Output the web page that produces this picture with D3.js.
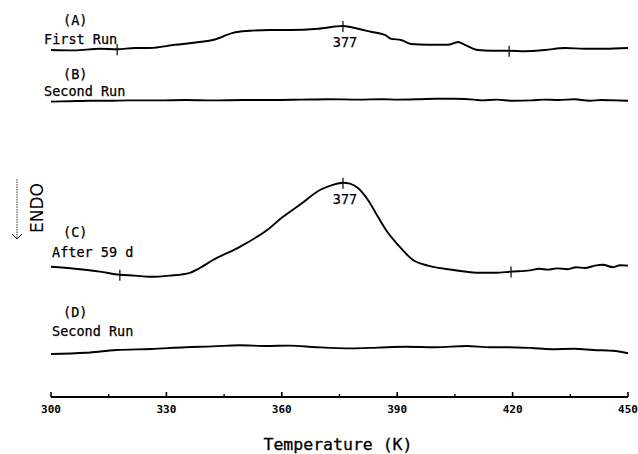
<!DOCTYPE html>
<html>
<head>
<meta charset="utf-8">
<script src="https://cdn.jsdelivr.net/npm/d3@7"></script>
<style>
body { margin: 0; background: #fff; }
svg { display: block; }
.lbl { font-family: "DejaVu Sans Mono", monospace; font-size: 13.5px; fill: #000; stroke: #000; stroke-width: 0.25; }
.tick-lbl { font-family: "DejaVu Sans Mono", monospace; font-size: 11px; font-weight: bold; fill: #000; }
</style>
</head>
<body>
<svg width="638" height="454"></svg>
<script>
// temperature (K) and signal (arbitrary units, traces offset)
const temp_a = [300, 306, 312.7, 317.2, 321.8, 325.7, 332.2, 338.7, 342.1, 344.5, 347.3, 351.7, 356.9, 362.1, 369.4, 375.9, 379.8, 383.4, 386.8, 388.4, 391, 393.6, 398, 403.2, 405, 405.8, 407.6, 411, 414.4, 419.1, 423.2, 428.4, 433.6, 438.8, 444, 450];
const sig_a  = [87.5, 87.4, 87.8, 87.7, 88.0, 88.0, 88.8, 89.5, 90.0, 90.8, 91.8, 92.3, 92.5, 92.5, 92.8, 93.5, 92.8, 92.0, 91.3, 90.3, 90.0, 89.0, 88.8, 88.8, 89.3, 89.5, 88.8, 87.5, 87.3, 87.3, 87.2, 87.5, 88.0, 87.8, 87.8, 88.0];

const temp_b = [300, 305, 310, 315, 320, 328, 335, 342, 350, 358, 365, 372, 380, 386, 390, 396, 400, 405, 410, 412, 416, 420, 425, 428, 432, 436, 440, 443, 447, 450];
const sig_b  = [74.6, 74.7, 74.8, 74.8, 74.9, 74.9, 75.0, 74.9, 75.0, 75.0, 75.1, 75.2, 75.1, 75.2, 75.1, 75.2, 75.3, 75.3, 75.1, 74.9, 75.1, 74.8, 74.9, 75.1, 75.0, 75.2, 74.8, 75.0, 74.9, 74.8];

const temp_c = [300, 306.2, 312.7, 317.9, 321.8, 325.7, 330.9, 336.1, 338.7, 342.1, 349.1, 356.2, 360.3, 364.7, 369.9, 373.3, 375.9, 377.7, 379.8, 382.4, 385, 387.6, 390.2, 394.1, 398, 403.2, 407, 411, 415.4, 419.6, 424.5, 427, 429.2, 431.5, 434.4, 436.5, 438.8, 441.4, 443.5, 446.1, 448, 450];
const sig_c  = [33.3, 32.8, 32.1, 31.3, 31.1, 30.8, 31.1, 31.8, 33.0, 35.0, 38.3, 42.5, 45.8, 48.8, 52.5, 53.8, 54.3, 54.1, 53.0, 50.0, 45.8, 41.8, 38.8, 35.0, 33.6, 32.7, 32.2, 31.8, 31.8, 32.1, 32.4, 32.8, 32.6, 32.9, 32.7, 33.2, 33.0, 33.6, 33.8, 33.2, 33.7, 33.6];

const temp_d = [300, 309, 317, 326, 335, 342, 349, 356, 362, 369, 378, 385, 392, 400, 408, 414, 419, 425, 430, 436, 441, 446, 450];
const sig_d  = [11.5, 11.8, 12.5, 12.75, 13.2, 13.4, 13.7, 13.5, 13.6, 13.2, 12.9, 13.1, 13.3, 13.2, 13.5, 13.2, 13.2, 13.0, 12.7, 12.8, 12.5, 12.3, 11.7];

const traces = [
	{t: temp_a, s: sig_a, id: "(A)", name: "First Run", marks: [317.2, 375.9, 419.1], peak: "377"},
	{t: temp_b, s: sig_b, id: "(B)", name: "Second Run", marks: [], peak: null},
	{t: temp_c, s: sig_c, id: "(C)", name: "After 59 d", marks: [317.9, 375.9, 419.6], peak: "377"},
	{t: temp_d, s: sig_d, id: "(D)", name: "Second Run", marks: [], peak: null}
];

const x_ticks = [300, 330, 360, 390, 420, 450];
const x_minor = [315, 345, 375, 405, 435];

var svg = d3.select("svg");
const g = svg.append("g");

var x = d3.scaleLinear().domain([300, 450]).range([51, 628]);
var y = d3.scaleLinear().domain([0, 100]).range([400, 0]);

function value_at(tr, t) {
	var i = d3.bisectLeft(tr.t, t);
	if (i <= 0) return tr.s[0];
	if (i >= tr.t.length) return tr.s[tr.s.length - 1];
	var f = (t - tr.t[i-1]) / (tr.t[i] - tr.t[i-1]);
	return tr.s[i-1] + f * (tr.s[i] - tr.s[i-1]);
}

var line = d3.line()
	.x(function(d) {return x(d[0])})
	.y(function(d) {return y(d[1])})
	.curve(d3.curveMonotoneX);

// label offsets above each trace start
const label_dy = [[-25, -6], [-22.5, -5.5], [-30, -10], [-37, -18]];

traces.forEach(function(tr, k) {
	var pts = tr.t.map(function(t, i) {return [t, tr.s[i]]});
	g.append("path")
		.attr("d", line(pts))
		.attr("fill", "none")
		.attr("stroke", "#000")
		.attr("stroke-width", 1.9)
		.attr("stroke-linejoin", "round");

	var y0 = y(tr.s[0]);
	g.append("text").attr("class", "lbl")
		.attr("x", 63).attr("y", y0 + label_dy[k][0])
		.text(tr.id);
	g.append("text").attr("class", "lbl")
		.attr("x", k == 2 || k == 3 ? 52 : 44).attr("y", y0 + label_dy[k][1])
		.text(tr.name);

	tr.marks.forEach(function(t) {
		var yy = y(value_at(tr, t));
		g.append("line")
			.attr("x1", x(t)).attr("x2", x(t))
			.attr("y1", yy - 5).attr("y2", yy + 6)
			.attr("stroke", "#000").attr("stroke-width", 1.2);
	});
	if (tr.peak) {
		var yp = y(value_at(tr, tr.marks[1]));
		g.append("text").attr("class", "lbl")
			.attr("x", x(tr.marks[1]) + 2).attr("y", yp + 21)
			.attr("text-anchor", "middle")
			.attr("font-size", "12.5px")
			.text(tr.peak);
	}
});

// x axis
var ax = g.append("g").attr("transform", "translate(0,397)");
ax.append("line")
	.attr("x1", x(300)).attr("x2", x(450))
	.attr("stroke", "#000").attr("stroke-width", 2);
ax.selectAll(".maj").data(x_ticks).enter().append("line")
	.attr("x1", function(d) {return x(d)}).attr("x2", function(d) {return x(d)})
	.attr("y1", 0).attr("y2", -5)
	.attr("stroke", "#000").attr("stroke-width", 1.6);
ax.selectAll(".min").data(x_minor).enter().append("line")
	.attr("x1", function(d) {return x(d)}).attr("x2", function(d) {return x(d)})
	.attr("y1", 0).attr("y2", -3)
	.attr("stroke", "#000").attr("stroke-width", 1.4);
ax.selectAll(".tick-lbl").data(x_ticks).enter().append("text")
	.attr("class", "tick-lbl")
	.attr("x", function(d) {return x(d)})
	.attr("y", 16)
	.attr("text-anchor", "middle")
	.text(function(d) {return d});

svg.append("text")
	.attr("x", 338).attr("y", 450)
	.attr("text-anchor", "middle")
	.style("font-family", "DejaVu Sans Mono, monospace")
	.style("font-size", "16.5px")
	.style("stroke", "#000").style("stroke-width", 0.3)
	.text("Temperature (K)");

// ENDO indicator
svg.append("text")
	.attr("transform", "translate(43,208) rotate(-90)")
	.attr("text-anchor", "middle")
	.style("font-family", "DejaVu Sans, sans-serif")
	.style("font-size", "17px")
	.text("ENDO");
svg.append("line")
	.attr("x1", 17).attr("x2", 17).attr("y1", 179).attr("y2", 239)
	.attr("stroke", "#000").attr("stroke-width", 0.8)
	.attr("stroke-dasharray", "1.5,1");
svg.append("path")
	.attr("d", "M12,234 L17,239 L22,234")
	.attr("fill", "none").attr("stroke", "#000").attr("stroke-width", 0.9);
</script>
</body>
</html>
